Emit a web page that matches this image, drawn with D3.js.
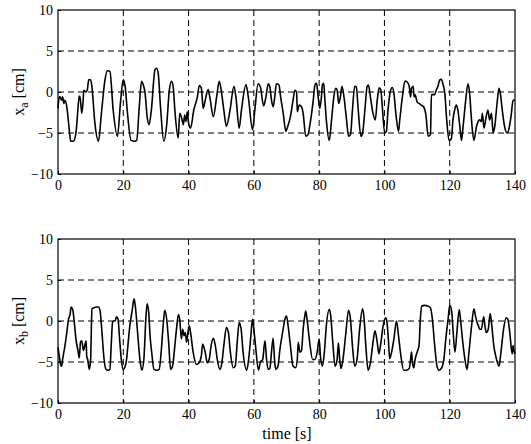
<!DOCTYPE html>
<html>
<head>
<meta charset="utf-8">
<script src="https://cdn.jsdelivr.net/npm/d3@7"></script>
<style>
  body { margin: 0; background: #fff; }
  svg text { font-family: "Liberation Serif", "DejaVu Serif", serif; fill: #000; }
</style>
</head>
<body>
<svg id="chart" width="531" height="444"></svg>
<script>
// x_a trace (top panel)
var timeA = [0,0.4,0.6,1.1,1.4,1.8,2.1,2.7,3.5,3.9,4.7,5.5,6.5,6.7,7.3,7.7,7.9,8.6,9.0,9.4,10.0,10.4,11.3,12.4,13.3,14.4,15.1,15.9,16.9,18.2,19.2,20.0,20.6,21.2,22.4,23.5,24.1,24.9,25.6,26.1,26.7,27.3,27.9,28.6,29.7,30.2,30.7,31.4,32.4,33.3,34.1,34.8,35.3,35.8,36.8,37.3,37.9,38.4,38.8,39.2,39.6,40.0,40.6,41.6,42.7,43.3,43.9,44.5,45.1,46.0,46.5,47.6,48.6,49.4,50.0,50.8,51.6,52.7,53.9,54.5,55.5,56.2,57.6,58.3,59.6,60.3,61.3,62.0,63.0,63.7,64.4,64.9,65.4,65.9,66.4,66.9,67.7,68.2,69.0,69.8,70.2,71.2,72.0,72.6,73.1,73.3,73.9,74.6,75.1,75.9,76.6,77.1,78.2,78.7,79.2,79.7,80.2,80.7,81.0,81.4,81.7,82.2,83.1,83.8,84.5,85.1,85.5,86.0,86.5,87.0,87.6,88.4,89.0,89.6,90.2,90.9,91.4,91.9,92.8,93.3,94.1,94.7,95.1,95.7,96.5,97.2,97.8,98.4,98.9,99.2,100.1,100.6,101.1,101.8,102.4,102.9,103.5,104.3,104.7,105.5,106.3,106.9,107.6,108.0,108.3,108.8,109.1,109.4,110.0,110.6,111.3,112.0,112.7,113.4,114.1,114.4,115.4,115.9,116.4,116.9,117.4,118.0,118.5,119.0,119.8,120.5,121.0,121.5,122.0,122.5,123.1,123.6,124.1,124.9,125.6,126.1,126.6,127.4,128.2,128.7,129.2,129.7,130.0,130.5,131.0,131.7,132.2,132.8,133.3,133.8,134.5,135.1,135.5,136.1,136.8,137.6,138.2,138.9,139.4,140];
var valA = [-2.0,-0.6,-0.6,-1.0,-0.6,-1.4,-1.0,-1.8,-4.8,-6.0,-6.0,-5.0,-0.6,-0.5,-2.6,-1.0,0.2,0.0,0.3,1.5,1.5,0.6,-3.8,-6.0,-2.6,1.5,2.6,2.5,-2.2,-5.4,-1.0,1.5,0.6,-2.2,-5.9,-6.0,-5.9,-1.8,1.3,0.9,-0.2,-3.0,-4.0,-2.2,2.7,2.9,2.3,-1.8,-6.0,-4.0,0.2,1.3,0.6,-2.2,-5.6,-2.6,-3.2,-4.0,-2.8,-3.6,-2.4,-3.8,-4.4,-2.2,-0.6,0.8,0.5,-2.0,-1.0,0.3,-0.6,-3.0,-0.6,1.3,0.2,-2.2,-4.2,-2.2,0.7,-0.6,-4.4,-2.2,0.9,-0.6,-4.6,-2.2,1.0,0.6,-1.7,-0.6,1.0,0.65,-1.0,-1.8,-0.6,1.0,0.85,-0.6,-2.6,-4.8,-4.4,-3.0,-1.0,0.2,0.0,-2.4,-1.6,-1.8,-2.6,-5.4,-5.2,-4.2,-1.0,0.85,1.05,-0.6,-2.0,-0.6,0.85,1.05,-0.6,-3.4,-5.9,-3.4,-0.6,0.45,0.25,-1.4,-0.6,0.7,-0.6,-3.4,-5.4,-5.2,-2.2,0.7,0.65,-1.8,-5.4,-5.0,-1.8,0.7,0.85,-0.6,-2.6,-3.4,-1.0,0.5,0.25,-1.0,-5.0,-4.8,-2.2,0.05,0.55,-0.15,-2.6,-4.8,-3.4,-0.6,1.35,1.25,0.7,-0.6,0.45,0.7,-0.6,-0.35,-1.2,-1.4,-1.6,-1.8,-2.8,-5.4,-5.2,-0.35,-0.3,0.25,0.7,1.45,1.55,0.85,-0.15,-3.0,-5.9,-5.7,-3.4,-2.2,-1.6,-2.2,-4.2,-5.9,-4.2,-1.0,1.0,-0.15,-3.0,-5.9,-4.2,-3.6,-3.4,-3.6,-2.6,-4.4,-3.4,-2.2,-3.4,-2.6,-5.0,-4.2,-1.4,0.45,-0.15,-2.2,-4.2,-5.0,-4.4,-2.6,-1.0,-1.0];

// x_b trace (bottom panel)
var timeB = [0,0.4,0.8,1.1,1.4,2.1,2.7,3.2,3.7,4.0,4.5,4.9,5.5,6.2,6.5,6.9,7.3,7.8,8.2,8.6,8.8,9.1,9.6,10.0,10.4,11.0,11.8,12.4,12.9,13.4,14.1,14.7,15.4,15.9,16.3,16.7,17.1,17.5,17.9,18.4,18.8,19.4,20.0,20.6,21.0,21.5,22.0,22.7,23.3,23.7,24.3,25.1,25.7,26.3,26.9,27.3,27.8,28.2,28.7,29.4,30.2,31.0,31.6,32.2,32.7,33.3,33.9,34.5,35.1,35.7,36.3,36.9,37.3,37.8,38.2,38.6,39.0,39.4,39.8,40.2,40.6,41.4,42.4,43.2,43.9,44.3,44.7,45.1,45.7,46.3,46.9,47.6,48.2,48.8,49.6,50.2,50.8,51.6,52.2,52.8,53.7,54.3,54.9,55.5,56.1,56.7,57.8,58.4,59.0,59.6,60.0,60.6,61.4,62.0,62.7,63.4,63.9,64.4,64.9,65.4,65.9,66.4,66.7,67.4,68.0,68.8,69.5,70.0,70.5,71.2,72.0,72.8,73.3,73.6,74.1,74.6,75.1,75.6,75.9,76.3,77.1,78.0,78.7,79.4,80.0,80.4,81.0,81.6,82.2,83.1,83.5,84.1,84.9,85.5,85.9,86.3,86.7,87.3,88.2,89.0,89.6,90.2,90.9,91.6,92.4,93.3,93.7,94.3,95.0,95.7,96.5,97.1,97.8,98.3,98.8,99.6,100.4,100.8,101.2,101.6,102.2,102.9,103.7,104.2,104.9,105.9,106.7,107.6,108.0,108.3,108.6,109.0,109.4,110.0,110.6,111.0,111.4,112.3,113.4,114.1,114.7,115.4,116.1,116.7,117.4,118.2,118.8,119.5,120.0,120.6,121.0,121.6,122.2,122.9,123.3,123.9,124.6,125.3,125.9,126.7,127.4,127.9,128.4,128.8,129.2,129.7,130.4,130.8,131.2,131.8,132.4,132.9,133.5,134.3,135.1,135.7,136.5,137.3,137.8,138.4,138.9,139.2,139.4,139.7,140];
var valB = [-3.2,-4.3,-5.3,-5.5,-4.7,-3.1,-1.4,0.2,0.8,1.7,1.4,0.2,-2.2,-3.8,-4.5,-2.6,-2.4,-3.6,-3.0,-2.4,-4.3,-4.7,-5.9,-4.7,1.5,1.6,1.7,1.7,1.2,-1.0,-4.6,-5.9,-6.0,-5.9,-3.0,-0.2,0.0,0.0,0.5,0.2,-1.8,-4.7,-5.9,-5.5,-4.7,-2.6,-0.6,1.2,2.7,1.8,-1.0,-4.7,-6.0,-4.7,0.2,2.1,1.0,-1.8,-3.8,-5.9,-6.0,-5.9,-3.8,-0.6,1.3,0.2,-2.6,-5.9,-5.5,-3.4,-1.0,0.8,0.2,-2.2,-1.0,-1.8,-1.4,-2.6,-1.4,-0.6,-1.4,-3.8,-5.3,-5.1,-4.3,-2.8,-3.2,-3.8,-5.1,-4.7,-3.0,-2.1,-3.0,-4.7,-5.9,-5.1,-3.0,-0.8,-1.4,-3.8,-5.7,-5.5,-2.6,-0.2,-1.0,-3.8,-6.0,-4.7,-2.2,0.2,-1.0,-3.4,-6.0,-5.0,-4.7,-2.4,-4.7,-5.9,-5.8,-3.8,-2.1,-5.1,-5.9,-5.5,-3.4,-1.4,0.2,0.6,-0.6,-3.0,-5.5,-5.7,-4.7,-2.6,-3.8,-3.6,-1.0,0.6,1.2,0.2,-2.6,-4.7,-4.7,-3.8,-2.2,-4.3,-5.5,-3.8,-0.6,1.4,0.8,-2.2,-5.5,-4.7,-2.7,-4.7,-5.8,-4.7,-1.4,1.3,0.2,-3.0,-5.5,-4.7,-1.0,1.5,0.6,-3.0,-6.0,-5.1,-2.6,-1.2,-2.6,-4.0,-3.0,-0.6,0.4,-0.2,-2.2,-4.6,-3.8,-2.2,0.0,-1.4,-3.8,-6.0,-6.0,-5.8,-4.7,-3.8,-5.1,-5.7,-4.7,-3.8,-3.0,0.2,1.8,1.9,1.8,1.6,0.2,-3.0,-5.5,-6.0,-5.8,-4.7,-2.2,0.2,1.9,1.2,-1.0,-3.8,-1.4,1.4,0.2,-2.2,-4.5,-5.9,-3.8,-0.6,1.5,0.6,-0.2,-0.6,-1.0,-1.0,0.5,-0.6,-1.4,-1.0,0.9,-0.6,-3.0,-4.6,-5.5,-3.8,-1.0,0.4,0.2,-1.4,-3.4,-4.0,-3.0,-3.6,-4.0];

var xTicks = [0, 20, 40, 60, 80, 100, 120, 140];
var yTicks = [-10, -5, 0, 5, 10];
var gridX = [20, 40, 60, 80, 100, 120];
var gridY = [-5, 0, 5];

var svg = d3.select("#chart");
var left = 58, right = 515;

var panels = [
    { top: 10, bottom: 174, t: timeA, v: valA, sub: "a" },
    { top: 239, bottom: 403, t: timeB, v: valB, sub: "b" }
];

panels.forEach(function(p) {

    var x = d3.scaleLinear().domain([0, 140]).range([left, right]);
    var y = d3.scaleLinear().domain([-10, 10]).range([p.bottom, p.top]);
    var g = svg.append("g");

    // dashed grid
    g.selectAll(".gx").data(gridX).enter().append("line")
        .attr("x1", function(d) { return x(d); }).attr("x2", function(d) { return x(d); })
        .attr("y1", p.top).attr("y2", p.bottom)
        .attr("stroke", "#000").attr("stroke-width", 1).attr("stroke-dasharray", "6,4");
    g.selectAll(".gy").data(gridY).enter().append("line")
        .attr("y1", function(d) { return y(d); }).attr("y2", function(d) { return y(d); })
        .attr("x1", left).attr("x2", right)
        .attr("stroke", "#000").attr("stroke-width", 1).attr("stroke-dasharray", "6,4");

    // axes with inward ticks
    var ax = g.append("g").attr("transform", "translate(0," + p.bottom + ")")
        .call(d3.axisBottom(x).tickValues(xTicks).tickSize(-3).tickPadding(6));
    var ay = g.append("g").attr("transform", "translate(" + left + ",0)")
        .call(d3.axisLeft(y).tickValues(yTicks).tickSize(-3).tickPadding(5));
    [ax, ay].forEach(function(a) {
        a.select(".domain").remove();
        a.selectAll("text").style("font-size", "14px").attr("fill", "#000");
        a.selectAll("line").attr("stroke", "#000");
    });

    // box
    g.append("rect").attr("x", left).attr("y", p.top)
        .attr("width", right - left).attr("height", p.bottom - p.top)
        .attr("fill", "none").attr("stroke", "#000").attr("stroke-width", 1.2);

    // trace
    var line = d3.line()
        .curve(d3.curveMonotoneX)
        .x(function(d, i) { return x(p.t[i]); })
        .y(function(d) { return y(d); });
    g.append("path").datum(p.v).attr("d", line)
        .attr("fill", "none").attr("stroke", "#000").attr("stroke-width", 1.6)
        .attr("stroke-linejoin", "round");

    // y label
    var lab = g.append("text")
        .attr("transform", "translate(24," + ((p.top + p.bottom) / 2) + ") rotate(-90)")
        .attr("text-anchor", "middle").style("font-size", "16px");
    lab.append("tspan").text("x");
    lab.append("tspan").attr("dy", 4).style("font-size", "12px").text(p.sub);
    lab.append("tspan").attr("dy", -4).text(" [cm]");
});

svg.append("text").attr("x", 287).attr("y", 439).attr("text-anchor", "middle")
    .style("font-size", "16px").text("time [s]");
</script>
</body>
</html>
